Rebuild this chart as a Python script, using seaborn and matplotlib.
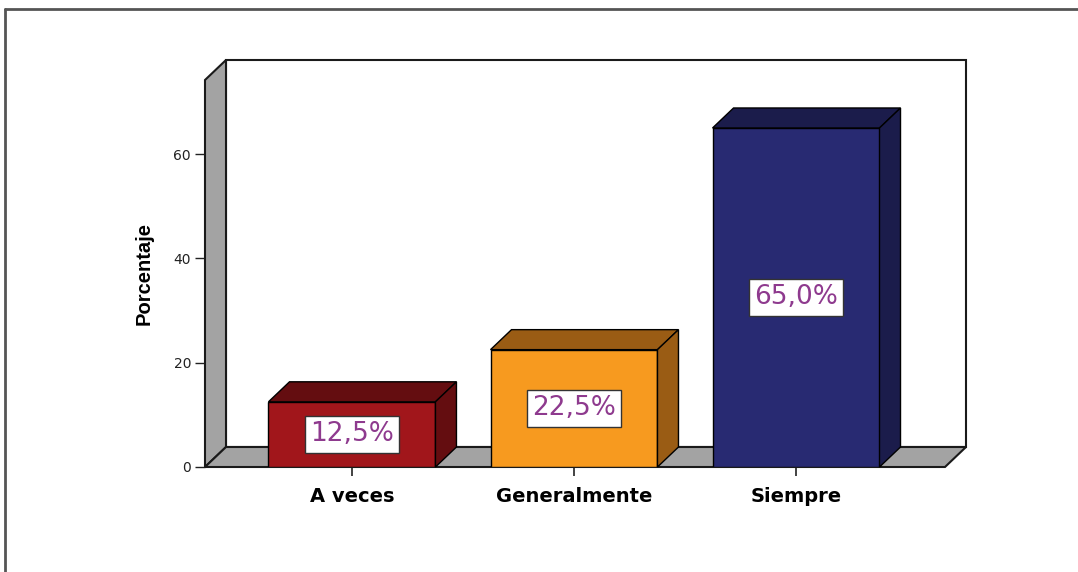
import matplotlib
matplotlib.use("Agg")
import matplotlib.pyplot as plt
import seaborn as sns
from matplotlib.patches import Polygon, Rectangle
from matplotlib.lines import Line2D

# data
categories = ["A veces", "Generalmente", "Siempre"]
percentages = [12.5, 22.5, 65.0]
y_ticks = [0, 20, 40, 60]

front_colors = ["#A1161B", "#F79A1F", "#282A72"]
dark_colors = ["#640D10", "#9A5C14", "#1B1C4B"]
label_color = "#8E3A8E"
wall_gray = "#A3A3A3"

sns.set_style("white")

fig = plt.figure(figsize=(10.78, 5.72), dpi=100)
W, H = 1078, 572

# front plane of the 3d box, in pixels
left, right, bottom, top = 205, 945, 467, 80
ax = fig.add_axes([left / W, 1 - bottom / H, (right - left) / W, (bottom - top) / H])

xmin, xmax = -0.662, 2.671
ymax = 74.2
depth_px = (21, 20)
dx = depth_px[0] * (xmax - xmin) / (right - left)
dy = depth_px[1] * ymax / (bottom - top)

# back wall, left wall, floor
ax.add_patch(Rectangle((xmin + dx, dy), xmax - xmin, ymax, fc="white", ec="#1a1a1a",
                       lw=1.5, zorder=0.5, clip_on=False))
ax.add_patch(Polygon([(xmin, 0), (xmin, ymax), (xmin + dx, ymax + dy), (xmin + dx, dy)],
                     closed=True, fc=wall_gray, ec="#1a1a1a", lw=1.5, zorder=0.6, clip_on=False))
ax.add_patch(Polygon([(xmin, 0), (xmax, 0), (xmax + dx, dy), (xmin + dx, dy)],
                     closed=True, fc=wall_gray, ec="#1a1a1a", lw=1.5, zorder=0.6, clip_on=False))

# front faces of the bars
sns.barplot(x=categories, y=percentages, hue=categories, palette=front_colors,
            saturation=1, width=0.752, edgecolor="black", linewidth=1, legend=False,
            ax=ax, zorder=2)

# top and side faces
for patch, dark in zip(ax.patches[3:], dark_colors):
    x0, w, h = patch.get_x(), patch.get_width(), patch.get_height()
    top_face = [(x0, h), (x0 + w, h), (x0 + w + dx, h + dy), (x0 + dx, h + dy)]
    side_face = [(x0 + w, 0), (x0 + w + dx, dy), (x0 + w + dx, h + dy), (x0 + w, h)]
    for pts in (top_face, side_face):
        ax.add_patch(Polygon(pts, closed=True, fc=dark, ec="black", lw=1,
                             zorder=2, clip_on=False))

# value labels
for i, v in enumerate(percentages):
    txt = f"{v:.1f}".replace(".", ",") + "%"
    ax.text(i, v / 2, txt, ha="center", va="center", color=label_color, fontsize=19,
            family="DejaVu Sans", zorder=5,
            bbox=dict(boxstyle="square,pad=0.2", fc="white", ec="#333333", lw=1))

ax.set_xlim(xmin, xmax)
ax.set_ylim(0, ymax)
ax.set_yticks(y_ticks)
ax.set_yticklabels([str(t) for t in y_ticks], fontsize=10, color="#222222", family="DejaVu Sans")
ax.set_xticks(range(len(categories)))
ax.set_xticklabels(categories, fontsize=14, fontweight="bold", family="DejaVu Sans", color="black")
ax.tick_params(axis="y", direction="out", length=7, width=1, color="#222222", pad=3, left=True)
ax.tick_params(axis="x", direction="out", length=6.5, width=1.2, color="#222222", pad=8, bottom=True)
for s in ax.spines.values():
    s.set_visible(False)
ax.set_xlabel("")
ax.set_ylabel("Porcentaje", fontsize=14.5, fontweight="bold", family="Liberation Sans",
              color="black", labelpad=14)
ax.patch.set_visible(False)

# outer frame
fig.add_artist(Line2D([5 / W, 5 / W], [0, 1 - 9 / H], transform=fig.transFigure,
                      color="#555555", lw=2))
fig.add_artist(Line2D([5 / W, 1], [1 - 9 / H, 1 - 9 / H], transform=fig.transFigure,
                      color="#555555", lw=2))

fig.savefig("out.png", dpi=100, facecolor="white")
